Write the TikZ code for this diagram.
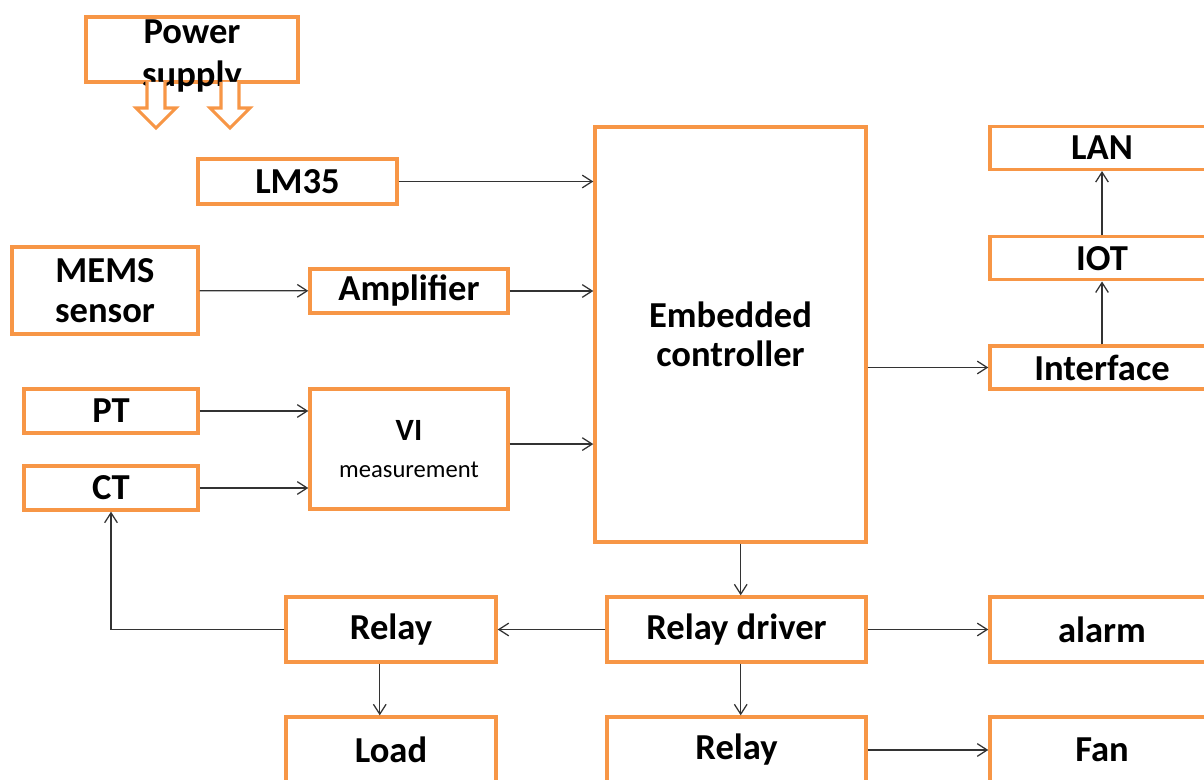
\documentclass[tikz,border=0pt]{standalone}
\usepackage{fontspec}
\setmainfont{Carlito}
\usepackage{xcolor}
\usepackage{tikz}
\usetikzlibrary{shapes,arrows.meta,positioning}

\definecolor{boxorange}{HTML}{F79646}

\begin{document}
\begin{tikzpicture}[x=0.025cm, y=-0.025cm,
    block/.style={rectangle, draw=boxorange, line width=2.4pt, fill=white, align=center, inner sep=2pt,
        font=\bfseries\fontsize{26}{28}\selectfont},
    link/.style={draw=black!80, line width=0.9pt, -{Straight Barb[length=7pt,width=9pt]}},
    power/.style={draw=boxorange, line width=2.2pt, fill=white, line join=miter}]
    \useasboundingbox (0,0) rectangle (1204,780);
    \clip (0,0) rectangle (1204,780);

    % source side
    \node[block, minimum width=5.3cm, minimum height=1.625cm] (supply) at (192,49.5) {};
    \node[font=\bfseries\fontsize{26}{30}\selectfont, align=center] (supplytext) at (192,56) {Power\\supply};
    \node[block, minimum width=4.975cm, minimum height=1.125cm] (lm35) at (297.5,181.5) {LM35};
    \node[block, minimum width=4.65cm, minimum height=2.175cm] (mems) at (105,290.5) {MEMS\\sensor};
    \node[block, minimum width=4.95cm, minimum height=1.1cm] (amp) at (409,291) {Amplifier};
    \node[block, minimum width=4.35cm, minimum height=1.1cm] (pt) at (111,411) {PT};
    \node[block, minimum width=4.35cm, minimum height=1.1cm] (ct) at (111,488) {CT};
    \node[block, minimum width=4.95cm, minimum height=3cm] (vi) at (409,449)
        {\fontsize{22}{25}\selectfont VI\\[-2pt]{\mdseries\fontsize{17.5}{20}\selectfont measurement}};

    % controller
    \node[block, minimum width=6.775cm, minimum height=10.375cm] (ec) at (730.5,334.5) {Embedded\\controller};

    % network side
    \node[block, minimum width=5.6cm, minimum height=1.075cm] (iface) at (1102,367.5) {Interface};
    \node[block, minimum width=5.6cm, minimum height=1.075cm] (iot) [above=1.57cm of iface] {IOT};
    \node[block, minimum width=5.6cm, minimum height=1.075cm] (lan) [above=1.6cm of iot] {LAN};

    % output side
    \node[block, minimum width=6.475cm, minimum height=1.625cm] (driver) at (736.5,629.5) {Relay driver};
    \node[block, minimum width=5.25cm, minimum height=1.625cm] (relayA) at (391,629.5) {Relay};
    \node[block, minimum width=5.6cm, minimum height=1.625cm] (alarm) at (1102,629.5) {alarm};
    \node[block, minimum width=6.475cm, minimum height=1.65cm] (relayB) at (736.5,750) {Relay};
    \node[block, minimum width=5.25cm, minimum height=1.65cm] (load) at (391,750) {Load};
    \node[block, minimum width=5.6cm, minimum height=1.65cm] (fan) at (1102,750) {Fan};

    % power arrows
    \foreach \px in {156,230}
        \draw[power] (\px-9,82) -- (\px-9,108) -- (\px-20,108) -- (\px,128) -- (\px+20,108)
            -- (\px+9,108) -- (\px+9,82);

    \draw[link] (lm35) -- (lm35 -| ec.west);
    \draw[link] (mems) -- (amp);
    \draw[link] (amp) -- (amp -| ec.west);
    \draw[link] (pt) -- (pt -| vi.west);
    \draw[link] (ct) -- (ct -| vi.west);
    \draw[link] ([yshift=3.5pt]vi.east) -- ([yshift=3.5pt]vi.east -| ec.west);
    \draw[link] (iface -| ec.east) -- (iface);
    \draw[link] (iface) -- (iot);
    \draw[link] (iot) -- (lan);
    \draw[link] ([xshift=3pt]ec.south -| driver.north) -- ([xshift=3pt]driver.north);
    \draw[link] (driver) -- (relayA);
    \draw[link] (driver) -- (alarm);
    \draw[link] ([xshift=3pt]driver.south) -- ([xshift=3pt]relayB.north);
    \draw[link] ([xshift=-8pt]relayA.south) -- ([xshift=-8pt]load.north);
    \draw[link] (relayB) -- (fan);
    \draw[link] (relayA.west) -| (ct.south);
\end{tikzpicture}
\end{document}
